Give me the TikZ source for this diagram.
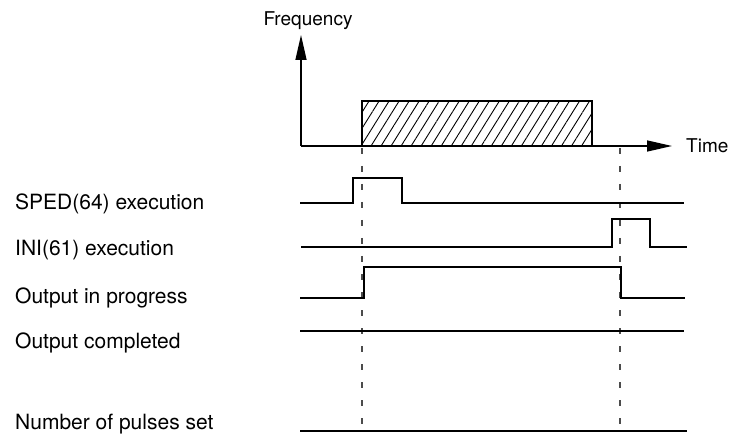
\documentclass[tikz,border=0pt]{standalone}
\usepackage{fontspec}
\setmainfont{TeX Gyre Heros}
\usetikzlibrary{arrows.meta,patterns.meta}

\begin{document}
\begin{tikzpicture}[x=1pt, y=-1pt,
    sig/.style={line width=1.4pt, black},
    axis/.style={line width=1.4pt, -{Triangle[length=25pt, width=11pt]}},
    guide/.style={line width=1.1pt, black!70, dash pattern=on 6pt off 12pt},
    lbl/.style={anchor=base west, inner sep=0pt, font=\fontsize{21}{25}\selectfont},
    axlbl/.style={inner sep=0pt, font=\fontsize{19}{23}\selectfont},
    hatch/.style={draw, line width=1.4pt, pattern={Lines[angle=58, distance=8.5pt, line width=0.9pt]}}
]
    \useasboundingbox (0,0) rectangle (735,435);

    % Frequency axes
    \coordinate (o) at (301,146);
    \coordinate (ytop) at (301,35);
    \coordinate (xend) at (672,146);
    \draw[axis] (o) -- (ytop);
    \draw[axis] (o) -- (xend);
    \node[axlbl, anchor=base] (freq) at (308,26) {Frequency};
    \node[axlbl, anchor=base west] (time) at (686,153) {Time};
    \draw[hatch] (362,101) rectangle (592,146);

    % Guides
    \draw[guide] (362,148) -- (362,435);
    \draw[guide] (620,148) -- (620,435);

    % Signals
    \node[lbl] (sped) at (15,210) {SPED(64) execution};
    \draw[sig] (300,203) -- (353,203) -- (353,178) -- (402,178) -- (402,203) -- (684,203);

    \node[lbl] (ini) at (15,256) {INI(61) execution};
    \draw[sig] (301,247) -- (612,247) -- (612,219) -- (650,219) -- (650,247) -- (687,247);

    \node[lbl] (prog) at (15,303) {Output in progress};
    \draw[sig] (300,298) -- (364,298) -- (364,267) -- (621,267) -- (621,298) -- (685,298);

    \node[lbl] (done) at (15,348) {Output completed};
    \draw[sig] (300,331) -- (684,331);

    \node[lbl] (pulses) at (15,429) {Number of pulses set};
    \draw[sig] (300,431) -- (687,431);
\end{tikzpicture}
\end{document}
